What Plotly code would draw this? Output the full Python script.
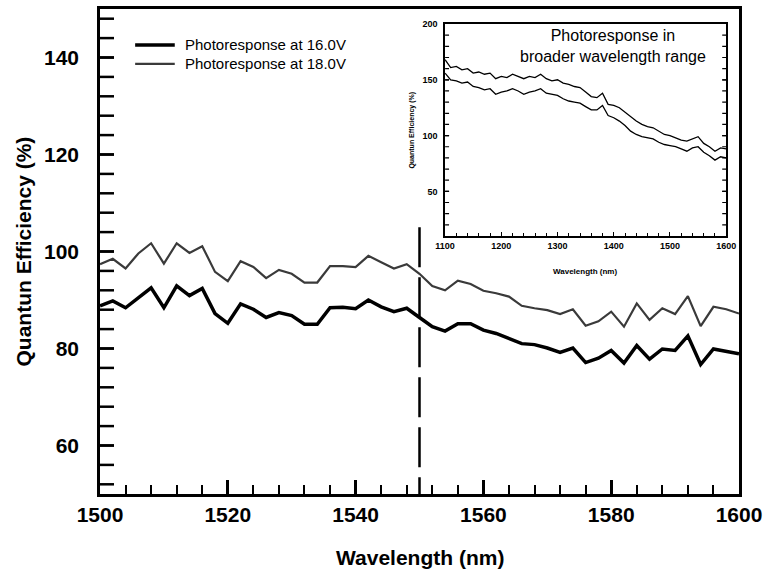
import plotly.graph_objects as go

# ---------------- data ----------------
wl_main = list(range(1500, 1601, 2))
qe_16 = [88.8, 89.8, 88.4, 90.5, 92.5, 88.4, 92.9, 90.9, 92.4, 87.2,
         85.2, 89.2, 88.1, 86.4, 87.4, 86.8, 85.0, 85.0, 88.4, 88.5,
         88.2, 90.0, 88.6, 87.6, 88.3, 86.4, 84.5, 83.6, 85.1, 85.1,
         83.8, 83.1, 82.1, 81.0, 80.8, 80.1, 79.2, 80.1, 77.1, 78.0,
         79.6, 77.0, 80.6, 77.8, 79.9, 79.6, 82.6, 76.7, 79.9, 79.4,
         78.9]
qe_18 = [97.4, 98.5, 96.5, 99.6, 101.7, 97.5, 101.7, 99.7, 101.1, 95.8,
         93.9, 98.0, 96.8, 94.5, 96.2, 95.4, 93.6, 93.6, 97.0, 97.0,
         96.8, 99.1, 97.8, 96.5, 97.4, 95.4, 92.9, 92.0, 94.0, 93.3,
         91.9, 91.4, 90.7, 88.8, 88.3, 87.9, 87.1, 88.1, 84.7, 85.6,
         87.6, 84.5, 89.3, 85.9, 88.3, 87.1, 90.8, 84.6, 88.6, 88.1,
         87.2]

wl_inset = list(range(1100, 1601, 10))
inset_18 = [168, 161, 162, 159, 160, 156, 157, 155, 156, 151,
            153, 152, 155, 153, 151, 153, 152, 155, 151, 149,
            150, 147, 146, 144, 143, 139, 135, 134, 138, 128,
            127, 125, 121, 117, 113, 110, 108, 107, 104, 101,
            100, 98, 96, 95, 97, 99, 93, 90, 86, 89,
            88]
inset_16 = [156, 150, 149, 147, 148, 144, 143, 141, 142, 137,
            139, 140, 142, 140, 137, 139, 140, 142, 138, 137,
            136, 133, 131, 130, 129, 126, 123, 123, 127, 118,
            116, 113, 109, 104, 101, 99, 98, 97, 94, 92,
            91, 90, 88, 86, 89, 90, 85, 82, 78, 81,
            80]

x_ticks = [1500, 1520, 1540, 1560, 1580, 1600]
y_ticks = [60, 80, 100, 120, 140]
x_minor = list(range(1504, 1600, 4))
y_minor = list(range(52, 150, 4))
inset_x_ticks = [1100, 1200, 1300, 1400, 1500, 1600]
inset_y_ticks = [50, 100, 150, 200]
inset_x_minor = list(range(1120, 1600, 20))
inset_y_minor = list(range(20, 200, 10))
marker_wl = 1550
legend_names = ["Photoresponse at 16.0V", "Photoresponse at 18.0V"]

X_RANGE, Y_RANGE = [1500, 1600], [50, 150]
X2_RANGE, Y2_RANGE = [1100, 1600], [10, 200]

FONT = "Liberation Sans, Arial, sans-serif"
styles = [dict(color="black", width=3.5), dict(color="#3a3a3a", width=2.2)]

fig = go.Figure()
fig.add_trace(go.Scatter(x=wl_main, y=qe_16, mode="lines", name=legend_names[0],
                         showlegend=False, line=styles[0]))
fig.add_trace(go.Scatter(x=wl_main, y=qe_18, mode="lines", name=legend_names[1],
                         showlegend=False, line=styles[1]))
fig.add_trace(go.Scatter(x=wl_inset, y=inset_18, mode="lines", xaxis="x2", yaxis="y2",
                         showlegend=False, line=dict(color="black", width=1.3)))
fig.add_trace(go.Scatter(x=wl_inset, y=inset_16, mode="lines", xaxis="x2", yaxis="y2",
                         showlegend=False, line=dict(color="black", width=1.3)))

fig.add_shape(type="line", xref="x", yref="y", x0=marker_wl, x1=marker_wl, y0=105, y1=50,
              line=dict(color="black", width=2.5, dash="40px,10px"))


# tick marks on the y axes: short segments in axis units (lengths as fractions of spans)
def add_yticks(xa, ya, xr, yvals, frac, width, both_sides=False):
    dx = (xr[1] - xr[0]) * frac
    xs, ys = [], []
    for v in yvals:
        segs = [(xr[0], xr[0] + dx)] + ([(xr[1], xr[1] - dx)] if both_sides else [])
        for a, b in segs:
            xs += [a, b, None]
            ys += [v, v, None]
    fig.add_trace(go.Scatter(x=xs, y=ys, xaxis=xa, yaxis=ya, mode="lines", showlegend=False,
                             hoverinfo="skip", line=dict(color="black", width=width)))


add_yticks("x", "y", X_RANGE, y_ticks + y_minor, 14 / 639, 2.5)
add_yticks("x2", "y2", X2_RANGE, inset_y_ticks[:-1] + inset_y_minor, 4 / 281, 1.2, True)

# legend (drawn manually to match sample length / spacing)
leg_rows = [0.926, 0.887]
for name, st, yy in zip(legend_names, styles, leg_rows):
    fig.add_shape(type="line", xref="paper", yref="paper", x0=0.055, x1=0.117, y0=yy, y1=yy,
                  line=st)
    fig.add_annotation(text=name, xref="paper", yref="paper", x=0.130, y=yy, xanchor="left",
                       yanchor="middle", showarrow=False, font=dict(size=15, family=FONT))

ax_common = dict(showgrid=False, zeroline=False, showline=True, linecolor="black", mirror=True,
                 automargin=False)

fig.update_layout(
    width=763, height=575,
    margin=dict(l=100, r=24, t=9, b=81),
    plot_bgcolor="white", paper_bgcolor="white",
    font=dict(family=FONT, color="black"),
    showlegend=False,
    xaxis=dict(**ax_common, range=X_RANGE, tickmode="linear", tick0=x_ticks[0],
               dtick=x_ticks[1] - x_ticks[0], linewidth=2.5,
               ticks="inside", ticklen=14, tickwidth=2.5, tickcolor="black",
               minor=dict(ticks="inside", dtick=x_minor[1] - x_minor[0], ticklen=9,
                          tickwidth=2, tickcolor="black"),
               tickfont=dict(size=21, family=FONT, weight="bold")),
    yaxis=dict(**ax_common, range=Y_RANGE, tickmode="array", tickvals=y_ticks, linewidth=2.5,
               ticks="", tickfont=dict(size=21, family=FONT, weight="bold"),
               ticklabelstandoff=14),
    xaxis2=dict(**ax_common, domain=[0.540, 0.980], anchor="y2", range=X2_RANGE,
                tickmode="array", tickvals=inset_x_ticks, linewidth=1.5,
                ticks="inside", ticklen=4, tickwidth=1.2, tickcolor="black",
                minor=dict(ticks="inside", tickvals=inset_x_minor, ticklen=3, tickwidth=1,
                           tickcolor="black"),
                tickfont=dict(size=9, family=FONT, weight="bold")),
    yaxis2=dict(**ax_common, domain=[0.532, 0.969], anchor="x2", range=Y2_RANGE,
                tickmode="array", tickvals=inset_y_ticks, linewidth=1.5, ticks="",
                tickfont=dict(size=9, family=FONT, weight="bold"), ticklabelstandoff=4),
)

fig.add_annotation(text="Wavelength (nm)", xref="paper", yref="paper", x=0.5, y=-0.130,
                   showarrow=False, font=dict(size=21, family=FONT, weight="bold"),
                   xanchor="center", yanchor="middle")
fig.add_annotation(text="Quantun Efficiency (%)", xref="paper", yref="paper", x=-0.1205, y=0.5,
                   textangle=-90, showarrow=False, font=dict(size=21, family=FONT, weight="bold"),
                   xanchor="center", yanchor="middle")
fig.add_annotation(text="Wavelength (nm)", xref="paper", yref="paper", x=0.759, y=0.458,
                   showarrow=False, font=dict(size=8, family=FONT, weight="bold"),
                   xanchor="center", yanchor="middle")
fig.add_annotation(text="Quantun Efficiency (%)", xref="paper", yref="paper", x=0.488, y=0.751,
                   textangle=-90, showarrow=False, font=dict(size=7, family=FONT, weight="bold"),
                   xanchor="center", yanchor="middle")
fig.add_annotation(text="Photoresponse in<br>broader wavelength range", xref="paper", yref="paper",
                   x=0.803, y=0.924, showarrow=False, font=dict(size=16, family=FONT),
                   xanchor="center", yanchor="middle")

fig.write_html("out.html")
